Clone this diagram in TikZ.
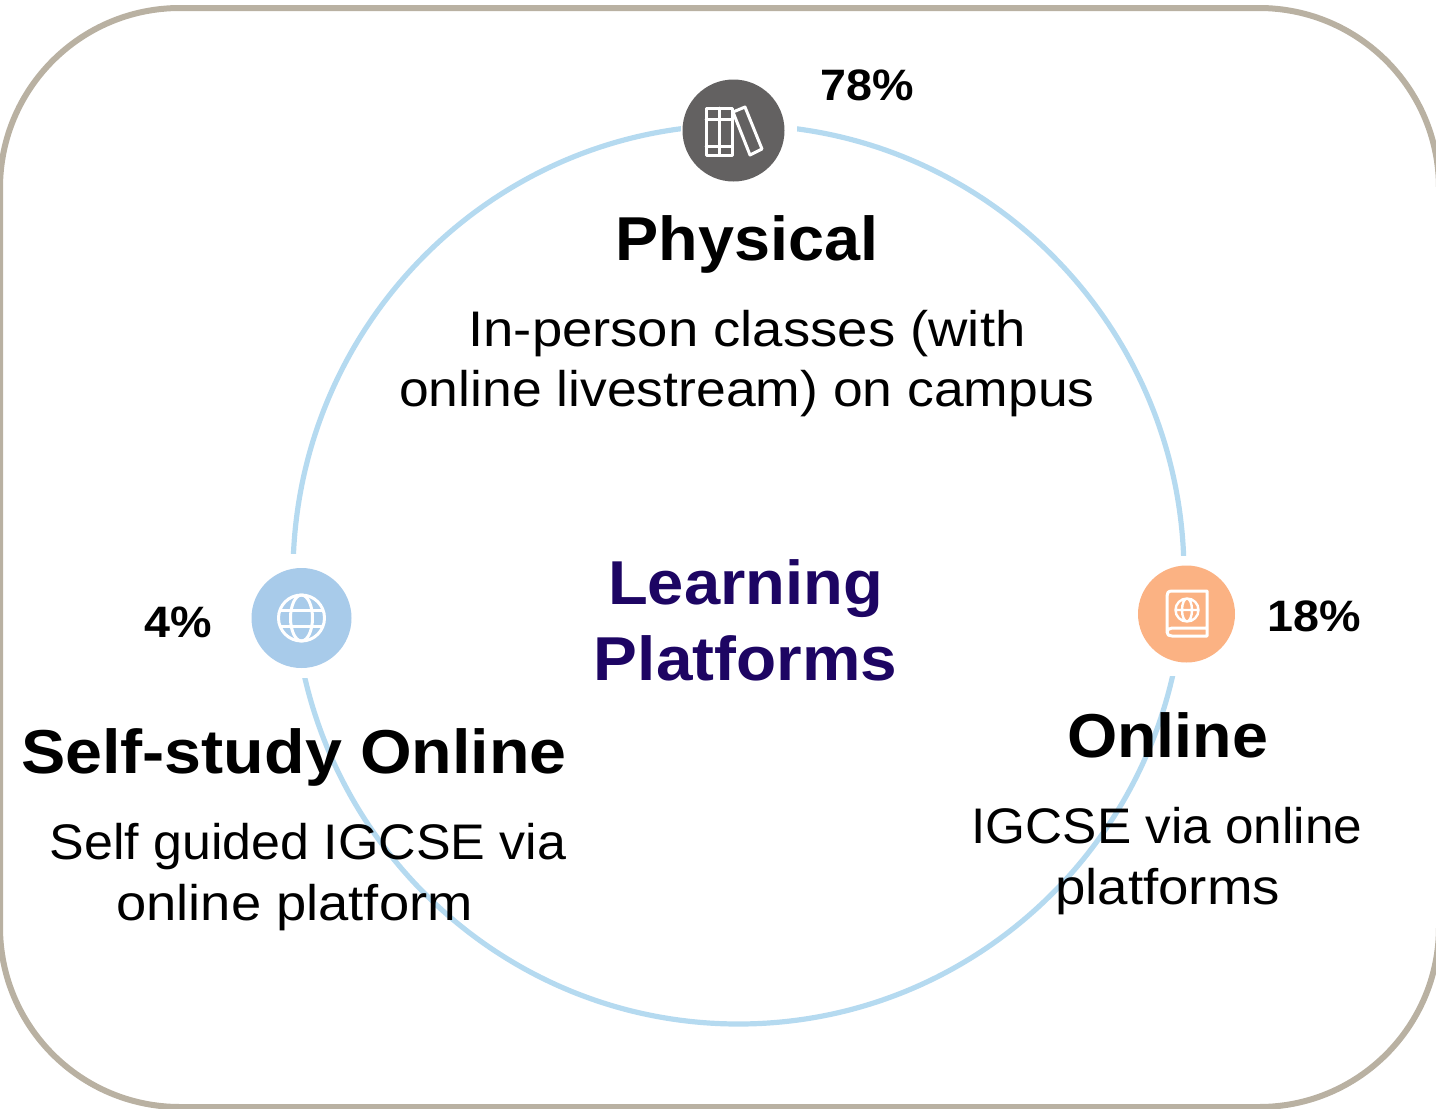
\documentclass[tikz,border=0pt]{standalone}
\usepackage{fontspec}
\usepackage{graphicx}
\setmainfont[FakeStretch=1.06]{Liberation Sans}
\definecolor{frameC}{HTML}{B9B1A2}
\definecolor{ringC}{HTML}{B5DAF0}
\definecolor{navyC}{HTML}{1D0563}
\definecolor{greyC}{HTML}{636161}
\definecolor{blueC}{HTML}{A8CBEA}
\definecolor{orangeC}{HTML}{FBB283}
\newcommand{\xs}[2]{\scalebox{#1}[1]{#2}}
\tikzset{
  x=0.5pt,y=-0.5pt,
  head/.style={font=\fontsize{31}{38}\selectfont\bfseries,align=center,text=black,inner sep=0pt},
  body/.style={font=\fontsize{25}{30}\selectfont,align=center,text=black,inner sep=0pt},
  pct/.style={font=\fontsize{22}{26}\selectfont\bfseries,text=black,inner sep=0pt},
  title/.style={font=\fontsize{31}{38}\selectfont\bfseries,align=center,text=navyC,inner sep=0pt},
  icondisc/.style={circle,inner sep=0pt,minimum size=#1*0.5pt},
  iconline/.style={draw=white,line width=1.5pt,line join=round,line cap=round},
  mask/.style={fill=white,draw=none,inner sep=0pt},
}
\begin{document}
\begin{tikzpicture}
\useasboundingbox (0,0) rectangle (1436,1109);
\draw[frameC,line width=3pt,rounded corners=90pt] (0,8) rectangle (1439,1107);
\coordinate (c) at (738.5,574.5);
\draw[ringC,line width=2.6pt] (c) ellipse[x radius=445.5,y radius=449.5];
% white patches behind the icons
\node[mask,minimum width=58pt,minimum height=60pt] (mphys) at (738.5,130) {};
\node[mask,minimum width=60pt,minimum height=62pt] (mself) at (300,616) {};
\node[mask,minimum width=60pt,minimum height=60pt] (monl) at (1184,616) {};
% Physical icon
\node[icondisc=102,fill=greyC] (iphys) at (733.5,130.5) {};
\draw[iconline] (706,108) rectangle (732,155) (719,108) -- (719,155) (706,119) -- (732,119) (706,146) -- (732,146);
\draw[iconline] (733,112) -- (745,107) -- (762,149) -- (750,155) -- cycle;
% Self-study icon
\node[icondisc=100,fill=blueC] (iself) at (301.5,618) {};
\draw[iconline] (301.5,618) circle[radius=23];
\draw[iconline] (301.5,618) ellipse[x radius=11,y radius=23];
\draw[iconline] (278.5,618) ++(2,-8) -- ++(42,0) (278.5,618) ++(2,8) -- ++(42,0);
% Online icon
\node[icondisc=97,fill=orangeC] (ionl) at (1186.5,614) {};
\draw[iconline] (1207,591) -- (1172,591) .. controls (1168,591) and (1167,593) .. (1167,596) -- (1167,632) .. controls (1167,635) and (1169,636) .. (1172,636) -- (1207,636) (1207,591) -- (1207,628) -- (1172,628) .. controls (1169,628) and (1167,630) .. (1167,632) (1207,628) -- (1207,636);
\draw[iconline,line width=1.2pt] (1187,610) circle[radius=11.5] (1187,610) ellipse[x radius=5,y radius=11.5] (1175.5,610) -- (1198.5,610);
% Text
\node[pct] (p78) at (867,85) {78\%};
\node[pct] (p18) at (1314,616) {18\%};
\node[pct] (p4) at (178,622.5) {4\%};
\node[head] (hphys) at (747,244.5) {\xs{0.985}{Physical}};
\node[body] (bphys) at (747,364) {\xs{1.028}{In-person classes (with}\\\xs{1.009}{online livestream) on campus}};
\node[title] (ttl) at (745.5,620.5) {\xs{0.99}{Learning}\\Platforms};
\node[head] (hself) at (294,757) {\xs{1.01}{Self-study Online}};
\node[body] (bself) at (308,847) {\xs{0.98}{Self guided IGCSE via}};
\node[body] (bself2) at (294.5,907.5) {\xs{1.026}{online platform}};
\node[head] (honl) at (1167.5,735.5) {\xs{0.983}{Online}};
\node[body] (bonl) at (1167,826) {\xs{0.968}{IGCSE via online}};
\node[body] (bonl2) at (1167.5,892) {\xs{1.032}{platforms}};
\end{tikzpicture}
\end{document}
